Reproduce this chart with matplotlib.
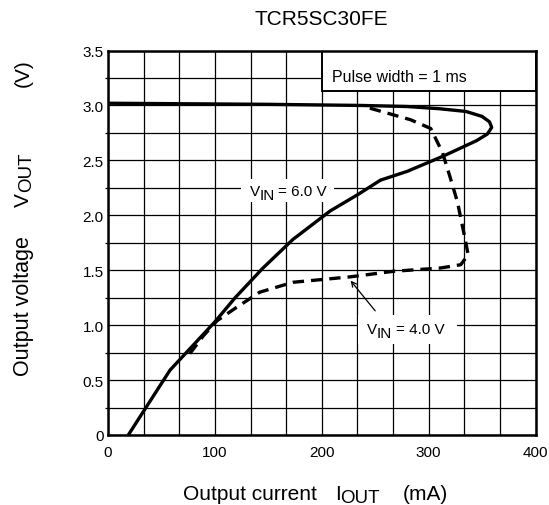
import matplotlib
matplotlib.use("Agg")
import matplotlib.pyplot as plt
from matplotlib.patches import Rectangle
import numpy as np

plt.rcParams['font.family'] = ['Liberation Sans', 'DejaVu Sans']

W, H = 549, 506

title = "TCR5SC30FE"
x_ticks = [0, 100, 200, 300, 400]
x_ticklabels = ["0", "100", "200", "300", "400"]
y_ticks = [0, 0.5, 1.0, 1.5, 2.0, 2.5, 3.0, 3.5]
y_ticklabels = ["0", "0.5", "1.0", "1.5", "2.0", "2.5", "3.0", "3.5"]

# VIN = 6.0 V (solid)
i_6v = [19, 58, 100, 119, 145, 173, 208, 234, 255, 280, 314, 345, 355, 359, 357, 350, 335, 310, 280, 236, 150, 0]
v_6v = [0.0, 0.59, 1.03, 1.25, 1.52, 1.78, 2.04, 2.19, 2.32, 2.40, 2.54, 2.68, 2.74, 2.80, 2.85, 2.90, 2.945, 2.97, 2.99, 3.0, 3.01, 3.02]

# VIN = 4.0 V (dashed)
i_4v = [245, 283, 302, 313, 320, 327, 334, 337, 330, 311, 267, 227, 173, 142, 120, 102, 89, 75]
v_4v = [2.975, 2.87, 2.79, 2.57, 2.35, 2.12, 1.79, 1.64, 1.55, 1.52, 1.49, 1.44, 1.39, 1.30, 1.16, 1.04, 0.90, 0.72]

fig = plt.figure(figsize=(W/100, H/100), dpi=100)
renderer = fig.canvas.get_renderer()
ax = fig.add_axes([108/W, 1-436/H, (535.5-108)/W, (436-51.5)/H])

ax.set_xlim(0, 400)
ax.set_ylim(0, 3.5)
ax.set_xticks(x_ticks)
ax.set_xticklabels(x_ticklabels, fontsize=11)
ax.set_yticks(y_ticks)
ax.set_yticklabels(y_ticklabels, fontsize=11)
ax.set_xticks(np.arange(0, 401, 100/3), minor=True)
ax.set_yticks(np.arange(0, 3.51, 0.25), minor=True)
ax.tick_params(which='both', length=0)
ax.tick_params(axis='y', which='minor', length=2.5, width=0.9, direction='out')
ax.tick_params(axis='x', pad=7)
ax.tick_params(axis='y', pad=3)
ax.grid(True, which='both', color='black', linewidth=0.9)
ax.set_axisbelow(True)
for s in ax.spines.values():
    s.set_linewidth(1.8)

ax.add_patch(Rectangle((200, 3.13), 200, 0.37, facecolor='white', edgecolor='black',
                       linewidth=1.4, zorder=2))

ax.plot(i_6v, v_6v, color='black', linewidth=2.4, solid_capstyle='butt', zorder=4)
ax.plot(i_4v, v_4v, color='black', linewidth=2.4, linestyle=(0, (3.4, 2.1)), zorder=4)


def px(x, y):
    return x / W, 1 - y / H


def put(x, y, s, size, rotation=0, ha='left'):
    fx, fy = px(x, y)
    return fig.text(fx, fy, s, fontsize=size, ha=ha, va='baseline',
                    rotation=rotation, rotation_mode='anchor', zorder=6)


def seq(x, y, pieces):
    """pieces: (text, size, baseline shift px, gap px)"""
    pos = x
    for s, size, shift, gap in pieces:
        pos += gap
        t = put(pos, y + shift, s, size)
        pos += t.get_window_extent(renderer).width
    return pos


def white_box(x0, y0, x1, y1):
    fx0, fy1 = px(x0, y1)
    fx1, fy0 = px(x1, y0)
    fig.patches.append(Rectangle((fx0, fy1), fx1 - fx0, fy0 - fy1, transform=fig.transFigure,
                                 facecolor='white', edgecolor='none', zorder=5))


# Pulse width label
put(332, 81.5, "Pulse width = 1 ms", 11.5)

# VIN = 6.0 V label
white_box(241, 180, 334, 203)
seq(249.5, 196.5, [("V", 11, 0, 0), ("IN", 11, 3.5, 0), ("= 6.0 V", 11, 0, 3.5)])

# VIN = 4.0 V label with arrow
white_box(358, 316, 457, 345)
seq(367, 334, [("V", 11, 0, 0), ("IN", 11, 3.5, 0), ("= 4.0 V", 11, 0, 3.5)])
ax.annotate("", xy=(227, 1.405), xytext=(250, 1.13),
            arrowprops=dict(arrowstyle='->', color='black', lw=0.9,
                            shrinkA=0, shrinkB=0, mutation_scale=9), zorder=6)

# Title
put(321.7, 25, title, 15, ha='center')

# X axis label
put(183, 500, "Output current", 15)
put(335, 500, "I", 15)
put(340.5, 503, "OUT", 13.5)
put(403, 500, "(mA)", 15)

# Y axis label (rotated)
put(28.5, 376, "Output voltage", 15.5, rotation=90)
put(28.5, 207, "V", 15, rotation=90)
put(31.5, 192, "OUT", 13.5, rotation=90)
put(28.5, 87, "(V)", 15, rotation=90)

fig.savefig("out.png", dpi=100)
